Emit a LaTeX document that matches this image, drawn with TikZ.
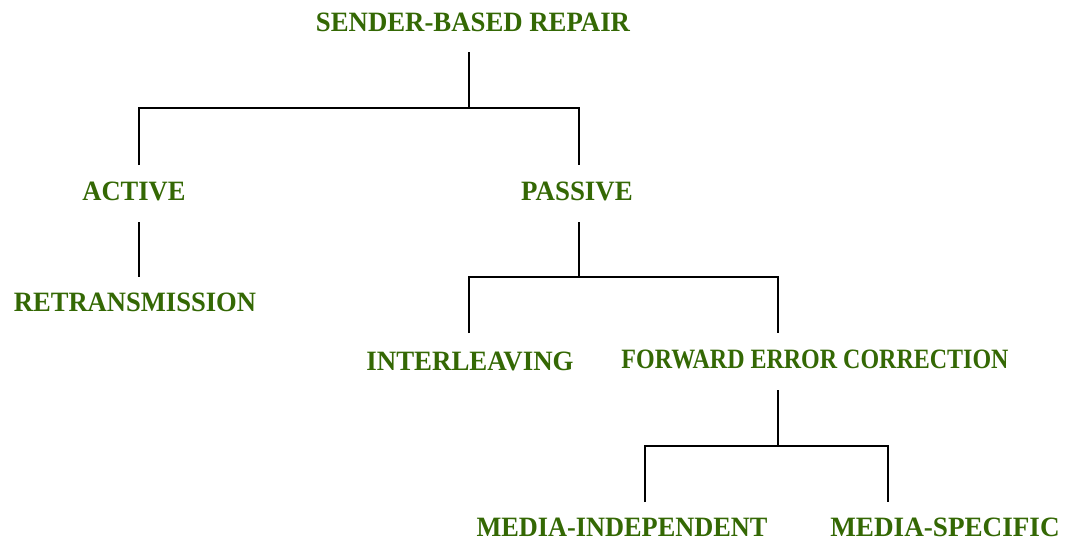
\documentclass[tikz,border=0pt]{standalone}
\usepackage{fontspec}
\setmainfont{Liberation Serif}
\definecolor{leafgreen}{RGB}{52,104,4}
% slightly condensed bold caption text
\newcommand{\narrowtext}[2][0.952]{\scalebox{#1}[1]{#2}}
\begin{document}
\begin{tikzpicture}[x=1pt,y=-1pt,
  label/.style={text=leafgreen,font=\fontsize{28}{32}\selectfont\bfseries,inner sep=0pt,anchor=center},
  branch/.style={line width=1.8pt,black}]
\useasboundingbox (0,0) rectangle (1065,542);
% category labels
\node[label] (root) at (473,22) {\narrowtext[0.956]{SENDER-BASED REPAIR}};
\node[label] (act)  at (134,191) {\narrowtext[0.947]{ACTIVE}};
\node[label] (pas)  at (577,191) {\narrowtext[0.96]{PASSIVE}};
\node[label] (ret)  at (135,302) {\narrowtext[0.949]{RETRANSMISSION}};
\node[label] (int)  at (470,361) {\narrowtext[0.96]{INTERLEAVING}};
\node[label] (fec)  at (815,359) {\narrowtext[0.857]{FORWARD ERROR CORRECTION}};
\node[label] (mind) at (622,527) {\narrowtext[0.94]{MEDIA-INDEPENDENT}};
\node[label] (mspc) at (945,527) {\narrowtext[0.97]{MEDIA-SPECIFIC}};
% stub ends of the connectors
\coordinate (rootB) at (469,52);
\coordinate (hubA)  at (469,108);
\coordinate (actT)  at (139,165);
\coordinate (pasT)  at (579,165);
\coordinate (actB)  at (139,222);
\coordinate (retT)  at (139,277);
\coordinate (pasB)  at (579,222);
\coordinate (hubB)  at (579,277);
\coordinate (intT)  at (469,333);
\coordinate (fecT)  at (778,333);
\coordinate (fecB)  at (778,390);
\coordinate (hubC)  at (778,446);
\coordinate (mindT) at (645,502);
\coordinate (mspcT) at (888,502);
% tree branches
\draw[branch] (rootB) -- (hubA);
\draw[branch] (actT) -- (actT |- hubA) -- (pasT |- hubA) -- (pasT);
\draw[branch] (actB) -- (retT);
\draw[branch] (pasB) -- (hubB);
\draw[branch] (intT) -- (intT |- hubB) -- (fecT |- hubB) -- (fecT);
\draw[branch] (fecB) -- (hubC);
\draw[branch] (mindT) -- (mindT |- hubC) -- (mspcT |- hubC) -- (mspcT);
\end{tikzpicture}
\end{document}
